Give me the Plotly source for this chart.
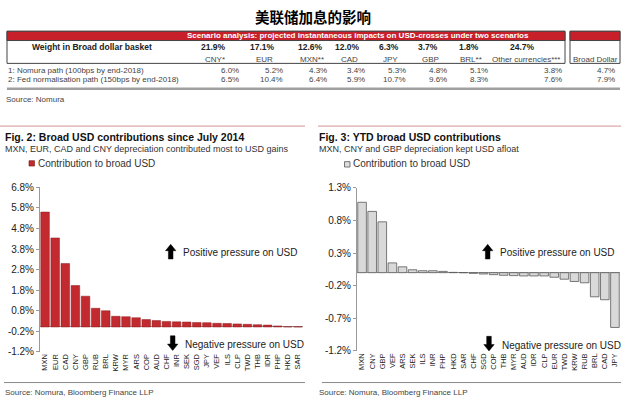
import plotly.graph_objects as go

W, H = 626, 408
FONT = "Liberation Sans, Arial, sans-serif"
CJK = "Noto Sans CJK SC"

# ---------------- data ----------------
main_title = "美联储加息的影响"
table_header = "Scenario analysis: projected instantaneous impacts on USD-crosses under two scenarios"
weight_label = "Weight in Broad dollar basket"
table_currencies = ["CNY*", "EUR", "MXN**", "CAD", "JPY", "GBP", "BRL**", "Other currencies***"]
table_weights = [21.9, 17.1, 12.6, 12.0, 6.3, 3.7, 1.8, 24.7]
row_labels = ["1: Nomura path (100bps by end-2018)",
              "2: Fed normalisation path (150bps by end-2018)"]
nomura_path = [6.0, 5.2, 4.3, 3.4, 5.3, 4.8, 5.1, 3.8]
fed_path = [6.5, 10.4, 6.4, 5.9, 10.7, 9.6, 8.3, 7.6]
broad_label = "Broad Dollar"
broad_dollar = [4.7, 7.9]

fig2_title = "Fig. 2: Broad USD contributions since July 2014"
fig2_sub = "MXN, EUR, CAD and CNY depreciation contributed most to USD gains"
fig2_ccy = ["MXN", "EUR", "CAD", "CNY", "GBP", "RUB", "BRL", "KRW", "MYR", "ARS", "COP", "AUD", "CHF",
            "INR", "SEK", "SGD", "JPY", "VEF", "ILS", "CLP", "TWD", "THB", "IDR", "PHP", "HKD", "SAR"]
fig2_val = [5.60, 4.34, 3.09, 2.02, 1.50, 0.91, 0.79, 0.52, 0.50, 0.45, 0.36, 0.31, 0.27,
            0.25, 0.24, 0.22, 0.21, 0.18, 0.17, 0.15, 0.13, 0.11, 0.09, 0.05, 0.01, 0.005]
fig2_ticks = [-1.2, -0.2, 0.8, 1.8, 2.8, 3.8, 4.8, 5.8, 6.8]

fig3_title = "Fig. 3: YTD broad USD contributions"
fig3_sub = "MXN, CNY and GBP depreciation kept USD afloat"
fig3_ccy = ["MXN", "CNY", "GBP", "VEF", "ARS", "SEK", "ILS", "INR", "PHP", "HKD", "SAR", "CHF", "SGD",
            "COP", "THB", "MYR", "AUD", "IDR", "CLP", "EUR", "TWD", "KRW", "RUB", "BRL", "CAD", "JPY"]
fig3_val = [1.08, 0.94, 0.78, 0.15, 0.09, 0.045, 0.03, 0.03, 0.02, 0.005, 0.0, -0.01, -0.02,
            -0.03, -0.04, -0.045, -0.05, -0.05, -0.05, -0.07, -0.10, -0.135, -0.155, -0.37, -0.415, -0.84]
fig3_ticks = [-1.2, -0.7, -0.2, 0.3, 0.8, 1.3]

legend_text = "Contribution to broad USD"
pos_text = "Positive pressure on USD"
neg_text = "Negative pressure on USD"
source_table = "Source: Nomura"
source_charts = "Source: Nomura, Bloomberg Finance LLP"

# ---------------- layout positions (pixels) ----------------
col_center = [213, 262, 310, 347, 389, 428, 469, 522]
col_right = [240, 284, 328, 366, 407, 448, 489, 563]
broad_right = 616

RED = "#c8202a"
BAR_RED = "#c22a2f"
TXT = "#222222"
AX = "#9a9a9a"


def px(x):
    return x / W


def py(y):
    return 1 - y / H


ann = []
shapes = []


def text(x, y, s, size, bold=False, color=TXT, anchor="left", family=FONT):
    ann.append(dict(x=px(x), y=py(y), xref="paper", yref="paper",
                    text=f"<b>{s}</b>" if bold else s, showarrow=False,
                    xanchor=anchor, yanchor="middle", borderpad=0,
                    font=dict(size=size, color=color, family=family)))


def line(x0, y0, x1, y1, color, width):
    shapes.append(dict(type="line", xref="paper", yref="paper", x0=px(x0), y0=py(y0),
                       x1=px(x1), y1=py(y1), line=dict(color=color, width=width)))


def rect(x0, y0, x1, y1, fill, lcolor, lwidth):
    shapes.append(dict(type="rect", xref="paper", yref="paper", x0=px(x0), y0=py(y0),
                       x1=px(x1), y1=py(y1), fillcolor=fill,
                       line=dict(color=lcolor, width=lwidth)))


def arrow(cx, y_tip, down=False, length=15, head_h=6.5, head_w=5.2, body_w=2.3):
    s = 1 if not down else -1
    pts = [(cx, y_tip), (cx + head_w, y_tip + s * head_h), (cx + body_w, y_tip + s * head_h),
           (cx + body_w, y_tip + s * length), (cx - body_w, y_tip + s * length),
           (cx - body_w, y_tip + s * head_h), (cx - head_w, y_tip + s * head_h)]
    path = "M " + " L ".join(f"{px(x):.5f},{py(y):.5f}" for x, y in pts) + " Z"
    shapes.append(dict(type="path", xref="paper", yref="paper", path=path,
                       fillcolor="#000000", line=dict(color="#000000", width=0.5)))


# ---- title ----
text(313, 12, main_title, 14.5, bold=True, color="#000000", anchor="center", family=CJK)

# ---- table ----
rect(7, 27, 565, 60, "rgba(0,0,0,0)", "#444444", 1)
rect(7, 27, 565, 36.5, RED, "#444444", 1)
rect(570, 27, 620, 60, "rgba(0,0,0,0)", "#444444", 1)
rect(570, 27, 620, 36.5, RED, "#444444", 1)
text(358, 31.8, table_header, 8, bold=True, color="#ffffff", anchor="center")
text(92, 43, weight_label, 8.5, bold=True, anchor="center")
for i, c in enumerate(table_currencies):
    text(col_center[i], 43, f"{table_weights[i]:.1f}%", 8.5, bold=True, anchor="center")
    text(col_center[i] + (4 if i == 7 else 2), 55.5, c, 8, anchor="center", color="#444444")
    text(col_right[i], 67, f"{nomura_path[i]:.1f}%", 8, anchor="right", color="#444444")
    text(col_right[i], 77, f"{fed_path[i]:.1f}%", 8, anchor="right", color="#444444")
text(595, 55.5, broad_label, 8, anchor="center", color="#444444")
text(broad_right, 67, f"{broad_dollar[0]:.1f}%", 8, anchor="right", color="#444444")
text(broad_right, 77, f"{broad_dollar[1]:.1f}%", 8, anchor="right", color="#444444")
text(7, 67, row_labels[0], 8, color="#444444")
text(7, 77, row_labels[1], 8, color="#444444")
line(7, 86, 620, 86, "#a0a0a0", 2.5)
text(5, 97, source_table, 8, color="#444444")

# ---- chart headers ----
for x0, x1 in [(0, 305), (318, 621)]:
    line(x0, 124.5, x1, 124.5, "#dcaaaa", 1.2)
    line(x0 + 4, 388, x1, 388, "#8a8a8a", 1)
text(4, 135.5, fig2_title, 10.5, bold=True, color="#111111")
text(318, 135.5, fig3_title, 10.5, bold=True, color="#111111")
text(4, 148.5, fig2_sub, 9, color="#333333")
text(318, 148.5, fig3_sub, 9, color="#333333")
rect(29, 160, 34.5, 165.5, BAR_RED, "#7a1a1a", 0.6)
text(36.5, 162.5, legend_text, 10, color="#333333")
rect(344.5, 161, 350, 166.5, "#dedede", "#555555", 0.8)
text(352, 163, legend_text, 10, color="#333333")
text(4, 398, source_charts, 8, color="#444444")
text(318, 398, source_charts, 8, color="#444444")

# ---- pressure annotations ----
arrow(170.7, 246)
text(182, 254, pos_text, 10, color="#222222")
arrow(172.7, 355, down=True)
text(184, 348.5, neg_text, 10, color="#222222")
arrow(487.7, 246)
text(499, 254.5, pos_text, 10, color="#222222")
arrow(489, 355.5, down=True)
text(500.5, 349.5, neg_text, 10, color="#222222")

# ---- bars ----
fig = go.Figure()
fig.add_trace(go.Bar(x=fig2_ccy, y=fig2_val, xaxis="x", yaxis="y",
                     marker=dict(color=BAR_RED, line=dict(color="#8a1c1f", width=0.5)),
                     showlegend=False, hoverinfo="x+y"))
fig.add_trace(go.Bar(x=fig3_ccy, y=fig3_val, xaxis="x2", yaxis="y2",
                     marker=dict(color="#d9d9d9", line=dict(color="#5a5a5a", width=0.8)),
                     showlegend=False, hoverinfo="x+y"))


def yax(domain_px, rng, ticks, xanchor):
    return dict(domain=[py(domain_px[1]), py(domain_px[0])], range=rng, anchor=xanchor,
                tickvals=ticks, ticktext=[f"{t:.1f}%" for t in ticks],
                showline=True, linecolor=AX, linewidth=1, ticks="outside", ticklen=3,
                tickcolor=AX, showgrid=False, zeroline=True, zerolinecolor=AX,
                zerolinewidth=1, tickfont=dict(size=10, color=TXT, family=FONT))


def xax(x0, x1, yanchor):
    return dict(domain=[px(x0), px(x1)], anchor=yanchor, type="category", tickangle=-90,
                showline=False, ticks="", showgrid=False,
                tickfont=dict(size=7.5, color=TXT, family=FONT))


fig.update_layout(
    width=W, height=H, margin=dict(l=0, r=0, t=0, b=0),
    paper_bgcolor="white", plot_bgcolor="rgba(0,0,0,0)",
    bargap=0.15,
    xaxis=xax(40, 303, "y"),
    yaxis=yax((187.5, 356.2), [-1.2, 6.8], fig2_ticks, "x"),
    xaxis2=xax(357, 620, "y2"),
    yaxis2=yax((188, 355.5), [-1.2, 1.3], fig3_ticks, "x2"),
    annotations=ann, shapes=shapes,
    font=dict(family=FONT),
)

fig.write_html("out.html", config={"displayModeBar": False},
               post_script="document.body.style.margin='0';document.body.style.overflow='hidden';")
